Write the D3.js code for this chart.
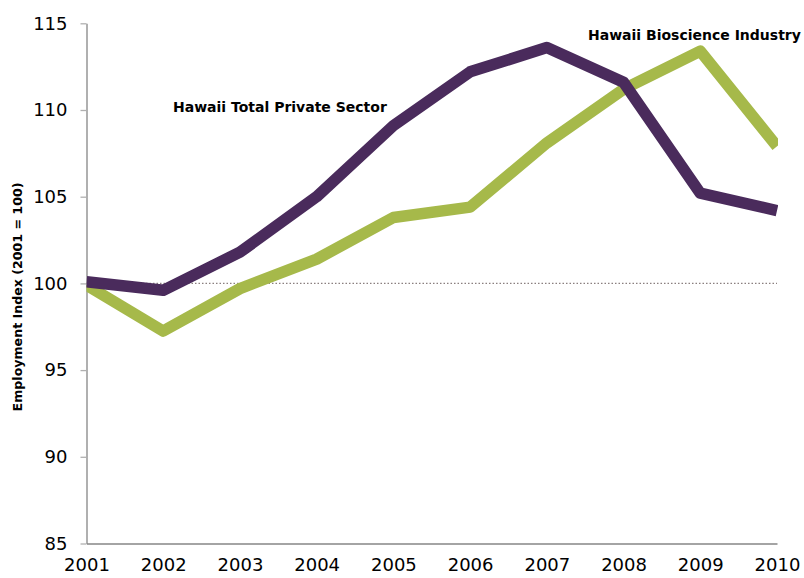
<!DOCTYPE html>
<html>
<head>
<meta charset="utf-8">
<script src="https://cdn.jsdelivr.net/npm/d3@7"></script>
<style>
  html, body { margin: 0; padding: 0; background: #fff; }
  svg { display: block; font-family: "DejaVu Sans", Verdana, sans-serif; }
</style>
</head>
<body>
<svg id="chart" width="804" height="578"></svg>
<script>
const years = [2001, 2002, 2003, 2004, 2005, 2006, 2007, 2008, 2009, 2010];
const totalPrivate = [100.1, 99.6, 101.8, 105.0, 109.1, 112.2, 113.6, 111.6, 105.2, 104.2];
const bioscience = [99.9, 97.25, 99.7, 101.4, 103.8, 104.4, 108.1, 111.2, 113.4, 107.9];
const yTicks = [85, 90, 95, 100, 105, 110, 115];
const seriesNames = ["Hawaii Total Private Sector", "Hawaii Bioscience Industry"];
const yTitle = "Employment Index (2001 = 100)";

const svg = d3.select("#chart");
const mLeft = 86.5, mRight = 777, mTop = 23.3, mBottom = 543.5;

const x = d3.scalePoint().domain(years).range([mLeft, mRight]);
const y = d3.scaleLinear().domain([85, 115]).range([mBottom, mTop]);

// clip
svg.append("clipPath").attr("id", "clip")
  .append("rect").attr("x", mLeft).attr("y", 0).attr("width", mRight - mLeft + 1).attr("height", 578);

// y axis
const yAxis = svg.append("g")
  .attr("transform", `translate(${mLeft},0)`)
  .call(d3.axisLeft(y).tickValues(yTicks).tickSize(6).tickPadding(13).tickSizeOuter(0));
yAxis.select(".domain").attr("stroke", "#868686").attr("stroke-width", 1.3);
yAxis.selectAll(".tick line").attr("stroke", "#b0b0b0").attr("stroke-width", 1.3);
yAxis.selectAll(".tick text").attr("font-size", 18).attr("fill", "#000")
  .attr("font-family", "'DejaVu Sans', Verdana, sans-serif");

// x axis
const xAxis = svg.append("g")
  .attr("transform", `translate(0,${mBottom})`)
  .call(d3.axisBottom(x).tickSize(0).tickPadding(15).tickSizeOuter(0));
xAxis.select(".domain").attr("stroke", "#868686").attr("stroke-width", 1.3);
xAxis.selectAll(".tick text").attr("font-size", 18).attr("fill", "#000")
  .attr("font-family", "'DejaVu Sans', Verdana, sans-serif");

// reference line at 100
svg.append("line")
  .attr("x1", mLeft).attr("x2", mRight)
  .attr("y1", y(100)).attr("y2", y(100))
  .attr("stroke", "#8a7f7f").attr("stroke-width", 1.2)
  .attr("stroke-dasharray", "1.5,2");

const line = d3.line().x((d, i) => x(years[i])).y(d => y(d));

const g = svg.append("g").attr("clip-path", "url(#clip)");
g.append("path").datum(bioscience)
  .attr("d", line).attr("fill", "none")
  .attr("stroke", "#a6b94a").attr("stroke-width", 11.5)
  .attr("stroke-linejoin", "round");
g.append("path").datum(totalPrivate)
  .attr("d", line).attr("fill", "none")
  .attr("stroke", "#4a2b5c").attr("stroke-width", 11.5)
  .attr("stroke-linejoin", "round");

// series labels
svg.append("text").attr("x", 173).attr("y", 112)
  .attr("font-size", 14).attr("font-weight", "bold").attr("fill", "#000")
  .text(seriesNames[0]);
svg.append("text").attr("x", 588).attr("y", 40)
  .attr("font-size", 14).attr("font-weight", "bold").attr("fill", "#000")
  .text(seriesNames[1]);

// y title
svg.append("text")
  .attr("transform", `translate(22,297) rotate(-90)`)
  .attr("text-anchor", "middle")
  .attr("font-size", 12.6).attr("font-weight", "bold").attr("fill", "#000")
  .text(yTitle);
</script>
</body>
</html>
